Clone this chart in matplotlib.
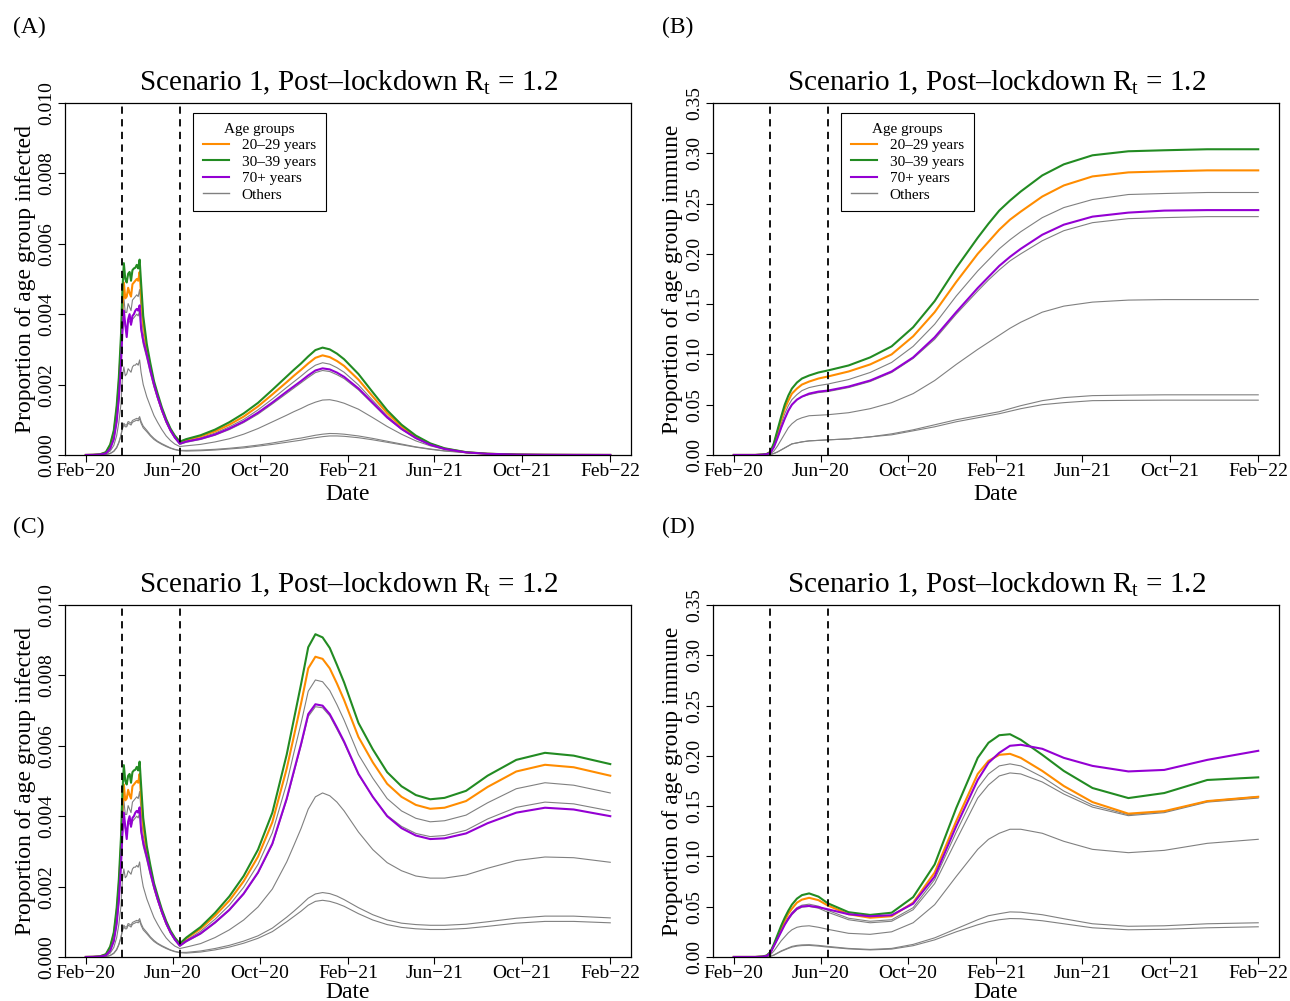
import numpy as np
import matplotlib
matplotlib.use("Agg")
import matplotlib.pyplot as plt
from matplotlib.lines import Line2D

plt.rcParams['font.family'] = ['Liberation Serif', 'DejaVu Serif']
plt.rcParams['mathtext.fontset'] = 'custom'
plt.rcParams['mathtext.rm'] = 'Liberation Serif'
plt.rcParams['mathtext.it'] = 'Liberation Serif:italic'

start = np.datetime64('2020-02-01')
lockdown_dates = ['2020-03-23', '2020-06-11']
tick_dates = ['2020-02-01', '2020-06-01', '2020-10-01', '2021-02-01',
              '2021-06-01', '2021-10-01', '2022-02-01']
tick_labels = ['Feb−20', 'Jun−20', 'Oct−20', 'Feb−21', 'Jun−21', 'Oct−21', 'Feb−22']

group_labels = ['20–29 years', '30–39 years', '70+ years', 'Others']
group_colors = ['darkorange', 'forestgreen', 'darkviolet', 'grey']

# ---- infected (per 1000), lockdown phase, same in both scenarios ----
days_lock = [0, 10, 20, 28, 34, 39, 43, 46, 49, 51, 53, 55, 57, 59, 61, 63, 65, 67,
             69, 71, 73, 75, 77, 80, 85, 90, 95, 100, 106, 112, 118, 124, 131]
lock_2029 = [0, 0.004, 0.018, 0.07, 0.27, 0.63, 1.27, 2.0, 3.1,
             4.2, 4.9, 4.45, 4.5, 4.75, 4.6, 4.5, 4.85, 4.9, 4.95, 5.0, 4.95, 5.2, 4.55,
             3.75, 3.0, 2.5, 2.02, 1.68, 1.3, 0.98, 0.72, 0.53, 0.37]
lock_3039 = [0, 0.005, 0.02, 0.08, 0.3, 0.7, 1.4, 2.2, 3.4,
             4.7, 5.45, 5.0, 4.9, 5.15, 5.2, 4.95, 5.25, 5.3, 5.32, 5.4, 5.3, 5.55, 4.9,
             3.95, 3.15, 2.6, 2.1, 1.75, 1.35, 1.02, 0.75, 0.55, 0.38]
lock_70 = [0, 0.003, 0.012, 0.045, 0.18, 0.45, 0.95, 1.6, 2.6,
           3.5, 4.1, 3.7, 3.35, 3.85, 4.0, 3.7, 3.95, 4.0, 4.1, 4.15, 4.1, 4.25, 3.6,
           3.25, 2.85, 2.4, 2.0, 1.65, 1.28, 0.96, 0.7, 0.5, 0.32]
lock_others = [
    [0, 0.004, 0.015, 0.06, 0.24, 0.56, 1.13, 1.8, 2.8,
     3.85, 4.45, 4.05, 4.05, 4.3, 4.2, 4.1, 4.4, 4.45, 4.5, 4.55, 4.5, 4.7, 4.15,
     3.45, 2.95, 2.45, 1.98, 1.62, 1.24, 0.92, 0.67, 0.48, 0.33],
    [0, 0.003, 0.012, 0.045, 0.18, 0.44, 0.92, 1.55, 2.5,
     3.45, 3.95, 3.65, 3.6, 3.8, 3.8, 3.7, 3.85, 3.9, 3.95, 4.0, 3.95, 4.1, 3.55,
     3.15, 2.75, 2.32, 1.93, 1.6, 1.24, 0.93, 0.68, 0.48, 0.3],
    [0, 0.002, 0.008, 0.03, 0.11, 0.27, 0.55, 0.92, 1.45,
     2.2, 2.5, 2.25, 2.3, 2.45, 2.4, 2.35, 2.5, 2.55, 2.55, 2.6, 2.55, 2.7, 2.35,
     2.0, 1.65, 1.38, 1.12, 0.93, 0.72, 0.54, 0.41, 0.31, 0.24],
    [0, 0.001, 0.003, 0.011, 0.045, 0.11, 0.22, 0.36, 0.57,
     0.78, 0.9, 0.85, 0.85, 0.95, 0.93, 0.9, 0.98, 1.0, 1.02, 1.04, 1.02, 1.09, 0.95,
     0.82, 0.7, 0.57, 0.47, 0.39, 0.32, 0.26, 0.2, 0.16, 0.13],
    [0, 0.001, 0.003, 0.01, 0.04, 0.1, 0.2, 0.34, 0.54,
     0.74, 0.85, 0.8, 0.8, 0.9, 0.88, 0.85, 0.93, 0.95, 0.97, 0.99, 0.97, 1.03, 0.9,
     0.77, 0.66, 0.54, 0.44, 0.37, 0.3, 0.24, 0.19, 0.15, 0.12],
]

# ---- infected (per 1000), after lockdown ----
days_post = [140, 160, 180, 200, 220, 240, 260, 280, 290, 300, 310, 320, 330, 340, 350,
             360, 380, 400, 420, 440, 460, 480, 500, 530, 560, 600, 640, 680, 731]
# panel A
postA_2029 = [0.43, 0.53, 0.67, 0.86, 1.09, 1.38, 1.72, 2.07, 2.25, 2.42, 2.6, 2.76, 2.83, 2.78,
              2.67, 2.53, 2.14, 1.66, 1.19, 0.81, 0.52, 0.31, 0.18, 0.075, 0.033, 0.011, 0.005, 0.002, 0.0]
postA_3039 = [0.45, 0.56, 0.72, 0.93, 1.18, 1.48, 1.85, 2.23, 2.42, 2.6, 2.8, 2.98, 3.05, 3.0,
              2.88, 2.72, 2.3, 1.78, 1.27, 0.86, 0.55, 0.33, 0.19, 0.08, 0.035, 0.012, 0.005, 0.002, 0.0]
postA_70 = [0.38, 0.46, 0.58, 0.75, 0.95, 1.2, 1.49, 1.8, 1.95, 2.1, 2.26, 2.4, 2.46, 2.43,
            2.34, 2.22, 1.89, 1.48, 1.07, 0.74, 0.48, 0.29, 0.17, 0.072, 0.032, 0.011, 0.005, 0.002, 0.0]
postA_others = [
    [0.4, 0.49, 0.62, 0.8, 1.01, 1.28, 1.59, 1.92, 2.08, 2.24, 2.41, 2.55, 2.62, 2.58,
     2.48, 2.35, 1.99, 1.55, 1.11, 0.76, 0.49, 0.3, 0.17, 0.072, 0.032, 0.011, 0.005, 0.002, 0.0],
    [0.36, 0.44, 0.56, 0.72, 0.92, 1.16, 1.45, 1.75, 1.9, 2.05, 2.2, 2.34, 2.4, 2.37,
     2.28, 2.17, 1.85, 1.45, 1.05, 0.73, 0.47, 0.29, 0.17, 0.072, 0.032, 0.011, 0.005, 0.002, 0.0],
    [0.26, 0.3, 0.37, 0.46, 0.59, 0.75, 0.94, 1.13, 1.23, 1.32, 1.42, 1.5, 1.56, 1.57,
     1.53, 1.47, 1.3, 1.06, 0.81, 0.59, 0.4, 0.26, 0.16, 0.075, 0.035, 0.013, 0.005, 0.002, 0.001],
    [0.13, 0.14, 0.16, 0.19, 0.23, 0.28, 0.34, 0.41, 0.45, 0.48, 0.52, 0.56, 0.59, 0.61,
     0.605, 0.59, 0.54, 0.47, 0.39, 0.31, 0.23, 0.17, 0.12, 0.07, 0.04, 0.017, 0.008, 0.003, 0.001],
    [0.11, 0.12, 0.14, 0.17, 0.2, 0.25, 0.3, 0.36, 0.39, 0.42, 0.46, 0.49, 0.52, 0.54,
     0.54, 0.53, 0.49, 0.43, 0.36, 0.29, 0.22, 0.16, 0.11, 0.065, 0.037, 0.016, 0.007, 0.003, 0.001],
]
# panel C
postC_2029 = [0.53, 0.8, 1.17, 1.6, 2.15, 2.85, 3.83, 5.35, 6.27, 7.2, 8.2, 8.53, 8.47, 8.2,
              7.77, 7.3, 6.25, 5.53, 4.92, 4.55, 4.32, 4.21, 4.24, 4.43, 4.83, 5.27, 5.46, 5.39, 5.15]
postC_3039 = [0.55, 0.85, 1.25, 1.72, 2.3, 3.05, 4.1, 5.75, 6.75, 7.75, 8.8, 9.17, 9.08, 8.78,
              8.3, 7.8, 6.65, 5.9, 5.25, 4.85, 4.6, 4.48, 4.52, 4.72, 5.15, 5.6, 5.8, 5.72, 5.48]
postC_70 = [0.45, 0.67, 0.98, 1.34, 1.8, 2.4, 3.22, 4.5, 5.28, 6.05, 6.9, 7.18, 7.14, 6.9,
            6.52, 6.12, 5.2, 4.55, 4.0, 3.66, 3.45, 3.35, 3.37, 3.51, 3.8, 4.1, 4.24, 4.19, 4.0]
postC_others = [
    [0.48, 0.73, 1.07, 1.47, 1.98, 2.63, 3.53, 4.93, 5.8, 6.64, 7.55, 7.87, 7.82, 7.57,
     7.17, 6.73, 5.75, 5.08, 4.5, 4.15, 3.94, 3.84, 3.87, 4.03, 4.38, 4.78, 4.95, 4.88, 4.66],
    [0.43, 0.65, 0.96, 1.32, 1.78, 2.38, 3.19, 4.46, 5.23, 6.0, 6.83, 7.11, 7.08, 6.85,
     6.47, 6.08, 5.18, 4.55, 4.02, 3.71, 3.51, 3.42, 3.45, 3.6, 3.92, 4.25, 4.4, 4.35, 4.15],
    [0.28, 0.38, 0.55, 0.77, 1.05, 1.42, 1.93, 2.7, 3.17, 3.65, 4.2, 4.55, 4.66, 4.58,
     4.4, 4.15, 3.55, 3.05, 2.68, 2.45, 2.3, 2.24, 2.24, 2.33, 2.52, 2.74, 2.84, 2.82, 2.69],
    [0.13, 0.17, 0.24, 0.33, 0.45, 0.6, 0.82, 1.13, 1.3, 1.48, 1.67, 1.79, 1.83, 1.8,
     1.73, 1.63, 1.4, 1.2, 1.05, 0.96, 0.92, 0.9, 0.9, 0.93, 1.0, 1.1, 1.16, 1.16, 1.11],
    [0.11, 0.14, 0.2, 0.28, 0.39, 0.53, 0.72, 1.0, 1.15, 1.3, 1.47, 1.58, 1.61, 1.58,
     1.52, 1.44, 1.23, 1.05, 0.92, 0.84, 0.8, 0.78, 0.78, 0.81, 0.87, 0.96, 1.01, 1.01, 0.97],
]

# ---- immune proportion ----
days_imm = [0, 30, 40, 46, 51, 56, 61, 66, 71, 76, 81, 88, 95, 105, 118, 131, 160, 190,
            220, 250, 280, 310, 340, 355, 370, 385, 400, 430, 460, 500, 550, 600, 660, 731]
# panel B
immB_2029 = [0, 0, 0.0004, 0.001, 0.003, 0.011, 0.023, 0.035, 0.046, 0.054, 0.061, 0.066,
             0.07, 0.073, 0.076, 0.078, 0.083, 0.09, 0.1, 0.118, 0.142, 0.172, 0.2, 0.212,
             0.224, 0.234, 0.242, 0.257, 0.268, 0.277, 0.281, 0.282, 0.283, 0.283]
immB_3039 = [0, 0, 0.0005, 0.001, 0.003, 0.012, 0.025, 0.038, 0.05, 0.059, 0.066, 0.072,
             0.076, 0.079, 0.082, 0.084, 0.089, 0.097, 0.108, 0.127, 0.153, 0.186, 0.216, 0.23,
             0.243, 0.253, 0.262, 0.278, 0.289, 0.298, 0.302, 0.303, 0.304, 0.304]
immB_70 = [0, 0, 0.0003, 0.0008, 0.002, 0.008, 0.017, 0.027, 0.036, 0.044, 0.05, 0.055,
           0.058, 0.061, 0.063, 0.064, 0.068, 0.074, 0.083, 0.097, 0.117, 0.142, 0.166, 0.177,
           0.188, 0.197, 0.205, 0.219, 0.229, 0.237, 0.241, 0.243, 0.2435, 0.2435]
immB_others = [
    [0, 0, 0.0004, 0.001, 0.002, 0.009, 0.02, 0.031, 0.041, 0.049, 0.055, 0.06,
     0.064, 0.067, 0.069, 0.0705, 0.075, 0.082, 0.092, 0.108, 0.13, 0.158, 0.183, 0.194,
     0.205, 0.214, 0.222, 0.236, 0.246, 0.254, 0.259, 0.26, 0.261, 0.261],
    [0, 0, 0.0003, 0.0008, 0.002, 0.008, 0.017, 0.027, 0.036, 0.044, 0.05, 0.055,
     0.058, 0.06, 0.062, 0.063, 0.067, 0.073, 0.082, 0.096, 0.115, 0.14, 0.163, 0.174,
     0.184, 0.193, 0.2, 0.213, 0.223, 0.231, 0.235, 0.236, 0.237, 0.237],
    [0, 0, 0.0002, 0.0005, 0.001, 0.004, 0.009, 0.015, 0.021, 0.027, 0.031, 0.035,
     0.037, 0.039, 0.0395, 0.04, 0.042, 0.046, 0.052, 0.061, 0.074, 0.09, 0.105, 0.112,
     0.119, 0.126, 0.132, 0.142, 0.148, 0.152, 0.154, 0.1545, 0.1545, 0.1545],
    [0, 0, 0.0001, 0.0002, 0.0005, 0.0015, 0.003, 0.005, 0.007, 0.009, 0.011, 0.012,
     0.013, 0.014, 0.0145, 0.015, 0.016, 0.018, 0.021, 0.025, 0.03, 0.035, 0.039, 0.041,
     0.043, 0.046, 0.049, 0.054, 0.057, 0.059, 0.0595, 0.0598, 0.0598, 0.0598],
    [0, 0, 0.0001, 0.0002, 0.0005, 0.0015, 0.003, 0.005, 0.007, 0.009, 0.011, 0.012,
     0.013, 0.014, 0.0145, 0.015, 0.016, 0.018, 0.02, 0.024, 0.028, 0.033, 0.037, 0.039,
     0.041, 0.0435, 0.046, 0.05, 0.052, 0.054, 0.0543, 0.0545, 0.0545, 0.0545],
]
# panel D
immD_2029 = [0, 0, 0.0004, 0.0013, 0.0045, 0.012, 0.02, 0.028, 0.036, 0.043, 0.048, 0.054,
             0.057, 0.0588, 0.0565, 0.0512, 0.0425, 0.039, 0.0405, 0.054, 0.084, 0.135, 0.182,
             0.195, 0.201, 0.202, 0.198, 0.185, 0.17, 0.154, 0.1425, 0.145, 0.155, 0.1593]
immD_3039 = [0, 0, 0.0005, 0.0015, 0.005, 0.013, 0.022, 0.031, 0.039, 0.046, 0.052, 0.058,
             0.0615, 0.0632, 0.06, 0.0534, 0.0445, 0.0418, 0.044, 0.0595, 0.092, 0.148, 0.198,
             0.213, 0.2205, 0.2215, 0.216, 0.201, 0.185, 0.168, 0.158, 0.163, 0.176, 0.1786]
immD_70 = [0, 0, 0.0003, 0.001, 0.004, 0.011, 0.018, 0.025, 0.032, 0.038, 0.043, 0.048,
           0.0503, 0.0507, 0.0495, 0.0474, 0.0425, 0.0405, 0.0415, 0.053, 0.08, 0.13, 0.176,
           0.193, 0.203, 0.21, 0.211, 0.207, 0.198, 0.19, 0.1845, 0.186, 0.196, 0.205]
immD_others = [
    [0, 0, 0.0003, 0.001, 0.0042, 0.011, 0.019, 0.026, 0.033, 0.039, 0.044, 0.049,
     0.0515, 0.0525, 0.0505, 0.0463, 0.0385, 0.0355, 0.037, 0.049, 0.077, 0.124, 0.168,
     0.182, 0.19, 0.192, 0.19, 0.179, 0.165, 0.151, 0.1415, 0.1445, 0.155, 0.1595],
    [0, 0, 0.0003, 0.001, 0.004, 0.0105, 0.018, 0.025, 0.032, 0.037, 0.042, 0.047,
     0.0495, 0.0503, 0.0485, 0.0445, 0.037, 0.034, 0.0355, 0.047, 0.073, 0.116, 0.158,
     0.171, 0.18, 0.183, 0.182, 0.174, 0.162, 0.149, 0.1405, 0.1435, 0.154, 0.158],
    [0, 0, 0.0002, 0.0005, 0.002, 0.006, 0.011, 0.016, 0.02, 0.024, 0.027, 0.0295,
     0.0305, 0.031, 0.0295, 0.0275, 0.0235, 0.0225, 0.025, 0.034, 0.052, 0.08, 0.107,
     0.117, 0.123, 0.127, 0.127, 0.123, 0.115, 0.107, 0.1037, 0.106, 0.113, 0.117],
    [0, 0, 0.0001, 0.0002, 0.0007, 0.002, 0.004, 0.006, 0.0075, 0.009, 0.0105, 0.0115,
     0.012, 0.0122, 0.0115, 0.0105, 0.0085, 0.0075, 0.0085, 0.0125, 0.019, 0.028, 0.037,
     0.041, 0.043, 0.0448, 0.0445, 0.042, 0.038, 0.033, 0.0305, 0.031, 0.033, 0.034],
    [0, 0, 0.0001, 0.0002, 0.0006, 0.0018, 0.0037, 0.0055, 0.007, 0.0085, 0.0098, 0.0108,
     0.0113, 0.0115, 0.0108, 0.0098, 0.008, 0.007, 0.0078, 0.0112, 0.017, 0.025, 0.032,
     0.035, 0.037, 0.0382, 0.038, 0.036, 0.033, 0.029, 0.027, 0.0275, 0.029, 0.03],
]

title = 'Scenario 1, Post–lockdown $\\mathrm{R_t}$ = 1.2'


def to_dates(days):
    return start + np.array(days).astype('timedelta64[D]')


def draw_panel(ax, days, main, others, ylim, yticks, yfmt, ylabel, legend, xlabelpad=3):
    x = to_dates(days)
    for vals in others:
        ax.plot(x, vals, color='grey', lw=0.8)
    ax.plot(x, main[0], color=group_colors[0], lw=1.5)
    ax.plot(x, main[1], color=group_colors[1], lw=1.5)
    ax.plot(x, main[2], color=group_colors[2], lw=1.5)
    for d in lockdown_dates:
        ax.axvline(np.datetime64(d), color='black', lw=1.3, ls=(0, (4, 3)))
    ax.set_xlim(start - np.timedelta64(29, 'D'), start + np.timedelta64(760, 'D'))
    ax.set_ylim(*ylim)
    ax.set_xticks([np.datetime64(t) for t in tick_dates])
    ax.set_xticklabels(tick_labels)
    ax.set_yticks(yticks)
    ax.set_yticklabels([yfmt % v for v in yticks], rotation=90, va='center')
    ax.tick_params(length=5, width=0.8, labelsize=14)
    ax.tick_params(axis='x', pad=1)
    ax.tick_params(axis='y', pad=2)
    for s in ax.spines.values():
        s.set_linewidth(0.9)
    ax.set_title(title, fontsize=21, pad=9)
    ax.set_xlabel('Date', fontsize=17, labelpad=xlabelpad)
    ax.set_ylabel(ylabel, fontsize=17, labelpad=2)
    if legend:
        handles = [Line2D([], [], color=c, lw=1.5 if c != 'grey' else 1.0) for c in group_colors]
        leg = ax.legend(handles, group_labels, title='Age groups', loc='upper left',
                        bbox_to_anchor=(0.226, 0.972), fontsize=11, title_fontsize=11,
                        frameon=True, fancybox=False, edgecolor='black', framealpha=1,
                        borderpad=0.65, labelspacing=0.18, handlelength=1.7,
                        handletextpad=0.85, borderaxespad=0)
        leg.get_frame().set_linewidth(0.8)


fig = plt.figure(figsize=(12.9, 10.01), dpi=100)
axA = fig.add_axes([0.0504, 0.5455, 0.4388, 0.3516])
axB = fig.add_axes([0.5527, 0.5455, 0.4388, 0.3516])
axC = fig.add_axes([0.0504, 0.0440, 0.4388, 0.3516])
axD = fig.add_axes([0.5527, 0.0440, 0.4388, 0.3516])

inf_ticks = [0.0, 0.002, 0.004, 0.006, 0.008, 0.010]
imm_ticks = [0.0, 0.05, 0.10, 0.15, 0.20, 0.25, 0.30, 0.35]
days_inf = days_lock + days_post


# infected lists are per 1000, convert to proportion
def per_mille(lock, post):
    return np.array(lock + post) / 1000.0


draw_panel(axA, days_inf,
           [per_mille(lock_2029, postA_2029), per_mille(lock_3039, postA_3039), per_mille(lock_70, postA_70)],
           [per_mille(l, p) for l, p in zip(lock_others, postA_others)],
           (0, 0.010), inf_ticks, '%.3f', 'Proportion of age group infected', True)
draw_panel(axB, days_imm, [immB_2029, immB_3039, immB_70], immB_others,
           (0, 0.35), imm_ticks, '%.2f', 'Proportion of age group immune', True)
draw_panel(axC, days_inf,
           [per_mille(lock_2029, postC_2029), per_mille(lock_3039, postC_3039), per_mille(lock_70, postC_70)],
           [per_mille(l, p) for l, p in zip(lock_others, postC_others)],
           (0, 0.010), inf_ticks, '%.3f', 'Proportion of age group infected', False, xlabelpad=0)
draw_panel(axD, days_imm, [immD_2029, immD_3039, immD_70], immD_others,
           (0, 0.35), imm_ticks, '%.2f', 'Proportion of age group immune', False, xlabelpad=0)

for lab, x, y in [('(A)', 0.010, 0.973), ('(B)', 0.513, 0.973),
                  ('(C)', 0.010, 0.473), ('(D)', 0.513, 0.473)]:
    fig.text(x, y, lab, fontsize=17, va='center', ha='left')

fig.savefig('out.png', dpi=100)
